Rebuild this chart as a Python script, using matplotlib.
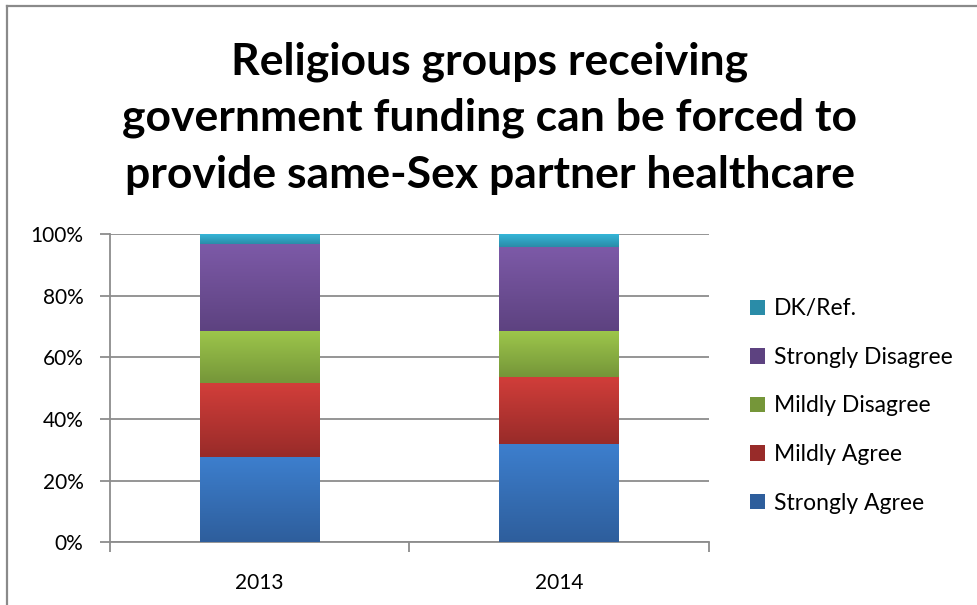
import numpy as np
import matplotlib
matplotlib.use("Agg")
import matplotlib.pyplot as plt
from matplotlib.lines import Line2D
from matplotlib.colors import LinearSegmentedColormap
from matplotlib.ticker import PercentFormatter

plt.rcParams['font.family'] = ['Lato', 'DejaVu Sans']

years = ['2013', '2014']
categories = ['Strongly Agree', 'Mildly Agree', 'Mildly Disagree',
              'Strongly Disagree', 'DK/Ref.']
strongly_agree = [27.7, 31.9]
mildly_agree = [24.0, 21.8]
mildly_disagree = [16.9, 14.9]
strongly_disagree = [28.3, 27.3]
dk_ref = [3.1, 4.1]
series = [strongly_agree, mildly_agree, mildly_disagree, strongly_disagree, dk_ref]

# (top, bottom) shades for the vertical gradient of each segment
shades = [('#3d7fce', '#2e5e9c'),
          ('#d23e3a', '#982b29'),
          ('#9dc64b', '#759639'),
          ('#7d5aa8', '#5d4280'),
          ('#35b6d8', '#2a8ca8')]

fig = plt.figure(figsize=(9.78, 6.05), dpi=100)
ax = fig.add_axes([110 / 978, 1 - 542.3 / 605, 599 / 978, 308 / 605])

x = np.arange(len(years))
bottom = np.zeros(len(years))
for vals, label, (top_c, bot_c) in zip(series, categories, shades):
    bars = ax.bar(x, vals, width=0.4, bottom=bottom, color=bot_c,
                  label=label, zorder=3, linewidth=0)
    cmap = LinearSegmentedColormap.from_list(label, [bot_c, top_c])
    grad = np.linspace(0, 1, 256).reshape(-1, 1)
    for b in bars:
        x0, y0 = b.get_x(), b.get_y()
        im = ax.imshow(grad, cmap=cmap, origin='lower', aspect='auto',
                       extent=[x0, x0 + b.get_width(), y0, y0 + b.get_height()],
                       zorder=4, interpolation='bilinear')
        im.set_clip_path(b)
    bottom += np.array(vals)

ax.set_xlim(-0.5, 1.5)
ax.set_ylim(0, 100)
ax.set_yticks(np.arange(0, 101, 20))
ax.yaxis.set_major_formatter(PercentFormatter(decimals=0))
ax.set_xticks(x)
ax.set_xticklabels(years)
ax.set_xticks([-0.5, 0.5, 1.5], minor=True)
ax.tick_params(axis='x', which='major', length=0, pad=22, labelsize=15)
ax.tick_params(axis='x', which='minor', length=7, width=1.3, color='#8c8c8c')
ax.tick_params(axis='y', length=7, width=1.3, color='#8c8c8c', labelsize=15, pad=12)
ax.grid(axis='y', color='#8c8c8c', linewidth=1.3, zorder=0)
for side in ['top', 'right']:
    ax.spines[side].set_visible(False)
for side in ['left', 'bottom']:
    ax.spines[side].set_color('#8c8c8c')
    ax.spines[side].set_linewidth(1.3)

fig.text(0.501, 1 - 118 / 605,
         'Religious groups receiving\ngovernment funding can be forced to\nprovide same-Sex partner healthcare',
         ha='center', va='center', fontsize=32, fontweight='bold',
         linespacing=1.5)

h, l = ax.get_legend_handles_labels()
fig.legend(h[::-1], l[::-1], loc='center left',
           bbox_to_anchor=(750 / 978, 1 - 406 / 605), frameon=False,
           fontsize=16.5, handlelength=0.65, handleheight=0.65,
           handletextpad=0.4, labelspacing=1.2, borderpad=0, borderaxespad=0)

# outer chart border
fig.add_artist(Line2D([7.5 / 978, 7.5 / 978], [0, 1 - 5.5 / 605],
                      transform=fig.transFigure, color='#8a8a8a', lw=1.6))
fig.add_artist(Line2D([7.5 / 978, 1], [1 - 5.5 / 605, 1 - 5.5 / 605],
                      transform=fig.transFigure, color='#8a8a8a', lw=1.6))

fig.savefig('out.png', dpi=100)
